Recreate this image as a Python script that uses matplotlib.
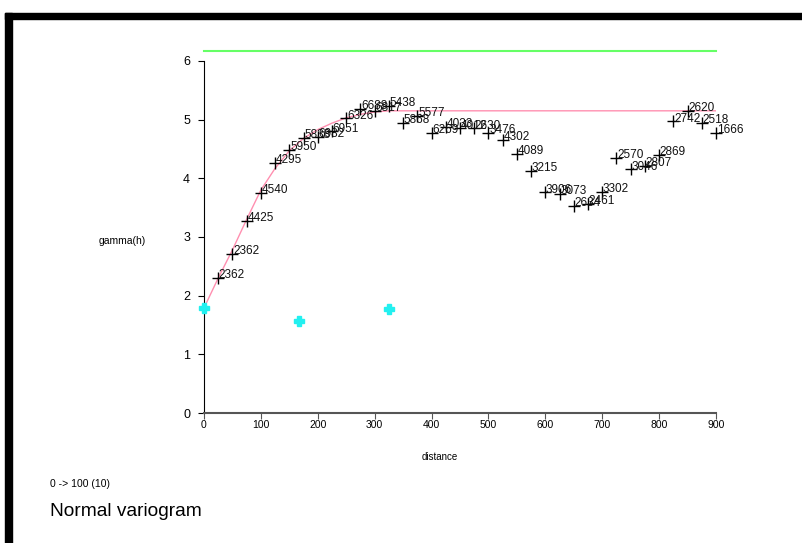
import matplotlib
matplotlib.use("Agg")
import matplotlib.pyplot as plt
from matplotlib.patches import Rectangle

plt.rcParams['font.family'] = ['Liberation Sans', 'DejaVu Sans']

# experimental variogram (lag distance, gamma, pair count label)
lags = [25, 50, 75, 100, 125, 150, 175, 200, 225, 250, 275, 300,
        325, 350, 375, 400, 425, 450, 475, 500, 525, 550, 575, 600,
        625, 650, 675, 700, 725, 750, 775, 800, 825, 850, 875, 900]
gamma = [2.30, 2.71, 3.27, 3.75, 4.26, 4.49, 4.69, 4.71, 4.80, 5.02, 5.18, 5.15,
         5.23, 4.94, 5.07, 4.78, 4.88, 4.85, 4.85, 4.77, 4.65, 4.41, 4.13, 3.76,
         3.74, 3.53, 3.56, 3.77, 4.35, 4.15, 4.21, 4.40, 4.97, 5.15, 4.94, 4.78]
pairs = ["2362", "2362", "4425", "4540", "4295", "5950", "5838", "6982", "6951", "6326", "6688", "6817",
         "5438", "5868", "5577", "6269", "4033", "4012", "2630", "3476", "4302", "4089", "3215", "3906",
         "3073", "2634", "2461", "3302", "2570", "3046", "2807", "2869", "2742", "2620", "2518", "1666"]

# fitted model curve
model_d = [0, 25, 50, 75, 100, 125, 150, 175, 200, 225, 250, 275, 300, 325, 900]
model_g = [1.79, 2.30, 2.78, 3.30, 3.80, 4.17, 4.47, 4.68, 4.83, 4.94, 5.03, 5.09, 5.13, 5.15, 5.15]

# sample variance line
var_d = [0, 900]
var_g = [6.17, 6.17]

# highlighted points
hl_d = [0, 167, 326]
hl_g = [1.79, 1.56, 1.78]

W, H = 802, 543
fig = plt.figure(figsize=(W / 100, H / 100), dpi=100)
fig.patches.append(Rectangle((5 / W, 0), 7 / W, (H - 13) / H, transform=fig.transFigure,
                             color="black", zorder=0))
fig.patches.append(Rectangle((5 / W, (H - 19) / H), (W - 5) / W, 6 / H, transform=fig.transFigure,
                             color="black", zorder=0))

ax = fig.add_axes([204 / W, 130 / H, 512 / W, 363.8 / H])
ax.set_xlim(0, 900)
ax.set_ylim(0, 6.2)

ax.plot(var_d, var_g, color="#66ff66", lw=1.5, clip_on=False)
ax.plot(model_d, model_g, color="#ff8fb0", lw=1)
ax.plot(lags, gamma, "+", color="black", ms=8, mew=1, clip_on=False)
for d, g, p in zip(lags, gamma, pairs):
    ax.annotate(p, (d, g), xytext=(0.5, 2), textcoords="offset points",
                ha="left", va="center", fontsize=8.5, color="#111111", annotation_clip=False)
ax.plot(hl_d, hl_g, "P", color="#22f0f0", ms=6.5, mec="#22f0f0", clip_on=False, zorder=5)

for s in ["top", "right"]:
    ax.spines[s].set_visible(False)
ax.spines["left"].set_bounds(0, 6)
ax.spines["left"].set_color("black")
ax.spines["bottom"].set_color("#555555")
ax.spines["bottom"].set_linewidth(1.5)
ax.set_xticks(range(0, 901, 100))
ax.set_yticks(range(0, 7))
ax.tick_params(axis="y", length=4, pad=6, labelsize=9)
ax.tick_params(axis="x", length=4, pad=1, labelsize=7.5, color="#555555")

fig.text(122 / W, 1 - 241 / H, "gamma(h)", fontsize=7.5, ha="center", va="center")
fig.text(440 / W, 1 - 457 / H, "distance", fontsize=7, ha="center", va="center")
fig.text(50 / W, 1 - 484 / H, "0 -> 100 (10)", fontsize=7.5, ha="left", va="center")
fig.text(50 / W, 1 - 512 / H, "Normal variogram", fontsize=13.8, ha="left", va="center")

fig.savefig("out.png", dpi=100)
